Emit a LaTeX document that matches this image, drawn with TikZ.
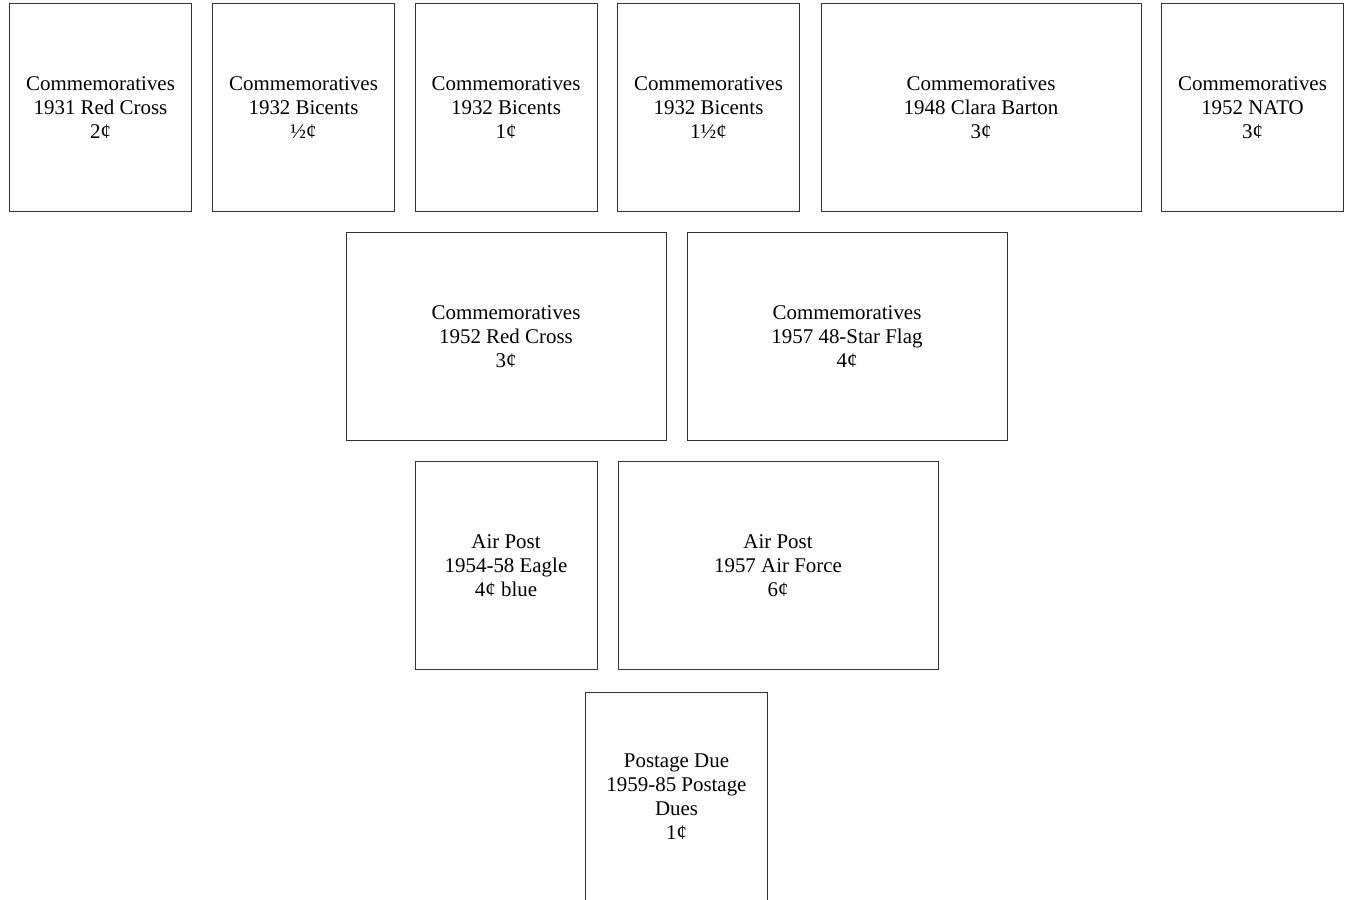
\documentclass[tikz,border=0pt]{standalone}
\usepackage{fontspec}
\setmainfont{Liberation Serif}
\usepackage{tikz}

\begin{document}
\begin{tikzpicture}[x=1bp, y=-1bp,
  stamp/.style={rectangle, draw=black!80, line width=1bp, minimum width=182bp, minimum height=208bp,
    inner sep=0pt, align=center, font=\fontsize{21}{24}\selectfont},
  widestamp/.style={stamp, minimum width=320bp}
]
\useasboundingbox (0,0) rectangle (1350,899);

% first row
\node[stamp] (redcross31) at (100.5,107.5) {Commemoratives\\1931 Red Cross\\2¢};
\node[stamp] (bicenthalf) at (303.5,107.5) {Commemoratives\\1932 Bicents\\½¢};
\node[stamp] (bicentone) at (506,107.5) {Commemoratives\\1932 Bicents\\1¢};
\node[stamp] (bicentonehalf) at (708.5,107.5) {Commemoratives\\1932 Bicents\\1½¢};
\node[widestamp] (barton) at (981,107.5) {Commemoratives\\1948 Clara Barton\\3¢};
\node[stamp] (nato) at (1252.5,107.5) {Commemoratives\\1952 NATO\\3¢};

% second row
\node[widestamp] (redcross52) at (506,336.5) {Commemoratives\\1952 Red Cross\\3¢};
\node[widestamp] (starflag) at (847,336.5) {Commemoratives\\1957 48-Star Flag\\4¢};

% air post
\node[stamp] (eagle) at (506,565.5) {Air Post\\1954-58 Eagle\\4¢ blue};
\node[widestamp] (airforce) at (778,565.5) {Air Post\\1957 Air Force\\6¢};

% postage due
\node[stamp] (postdue) at (676.5,796.5) {Postage Due\\1959-85 Postage\\Dues\\1¢};
\end{tikzpicture}
\end{document}
